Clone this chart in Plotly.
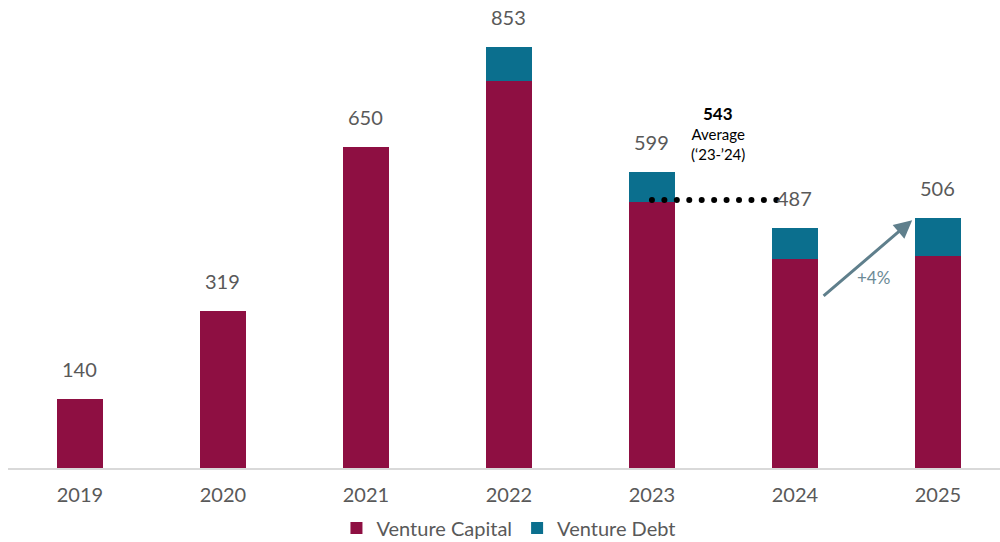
import plotly.graph_objects as go
import numpy as np

years = ["2019", "2020", "2021", "2022", "2023", "2024", "2025"]
venture_capital = [140, 319, 650, 784, 539, 423, 430]
venture_debt = [0, 0, 0, 69, 60, 64, 76]
totals = [140, 319, 650, 853, 599, 487, 506]
average_23_24 = 543
growth_label = "+4%"

vc_color = "#8E0F42"
vd_color = "#0B6F8E"
text_color = "#595959"
font_family = "Lato, 'Open Sans', sans-serif"

x = list(range(len(years)))

fig = go.Figure()
fig.add_trace(go.Bar(
    x=x, y=venture_capital, name="Venture Capital",
    marker=dict(color=vc_color, line=dict(width=0)), width=0.32,
))
fig.add_trace(go.Bar(
    x=x, y=venture_debt, name="Venture Debt",
    marker=dict(color=vd_color, line=dict(width=0)), width=0.32,
))

# total labels above each stack
for xi, t in zip(x, totals):
    fig.add_annotation(
        x=xi, y=t, text=str(t), showarrow=False, yanchor="bottom", yshift=16,
        font=dict(size=20, color=text_color, family=font_family),
    )

# dotted average line from 2023 toward 2024
dot_x = np.linspace(4, 4.87, 11)
fig.add_trace(go.Scatter(
    x=dot_x, y=[average_23_24] * len(dot_x), mode="markers",
    marker=dict(size=6, color="black"), showlegend=False, hoverinfo="skip",
))

fig.add_annotation(
    x=4.46, y=average_23_24, yshift=74, showarrow=False, yanchor="bottom",
    text=f"<b>{average_23_24}</b>",
    font=dict(size=17, color="black", family=font_family),
)
fig.add_annotation(
    x=4.46, y=average_23_24, yshift=35, showarrow=False, yanchor="bottom",
    text="Average<br>(‘23-’24)",
    font=dict(size=15, color="black", family=font_family),
)

# growth arrow 2024 -> 2025
fig.add_annotation(
    x=5.82, y=502, ax=5.19, ay=346, xref="x", yref="y", axref="x", ayref="y",
    showarrow=True, arrowhead=2, arrowsize=1.2, arrowwidth=3, arrowcolor="#5F7F8C",
    text="",
)
fig.add_annotation(
    x=5.55, y=385, text=growth_label, showarrow=False,
    font=dict(size=17, color="#6B8A96", family=font_family),
)

fig.update_layout(
    barmode="stack",
    width=1000, height=542,
    margin=dict(l=8, r=0, t=0, b=74, autoexpand=False),
    plot_bgcolor="white", paper_bgcolor="white",
    font=dict(family=font_family, color=text_color, size=20),
    xaxis=dict(
        range=[-0.503, 6.434], tickvals=x, ticktext=years,
        showgrid=False, zeroline=False, showline=True, linecolor="#D9D9D9", linewidth=2,
        ticks="", tickfont=dict(size=20, color=text_color), ticklabelstandoff=8,
        automargin=False,
    ),
    yaxis=dict(range=[0, 948], visible=False),
    legend=dict(
        orientation="h", x=0.505, xanchor="center",
        yref="container", y=0.062, yanchor="top",
        font=dict(size=20, color=text_color), traceorder="normal",
    ),
    showlegend=True,
)

fig.write_html("out.html")
